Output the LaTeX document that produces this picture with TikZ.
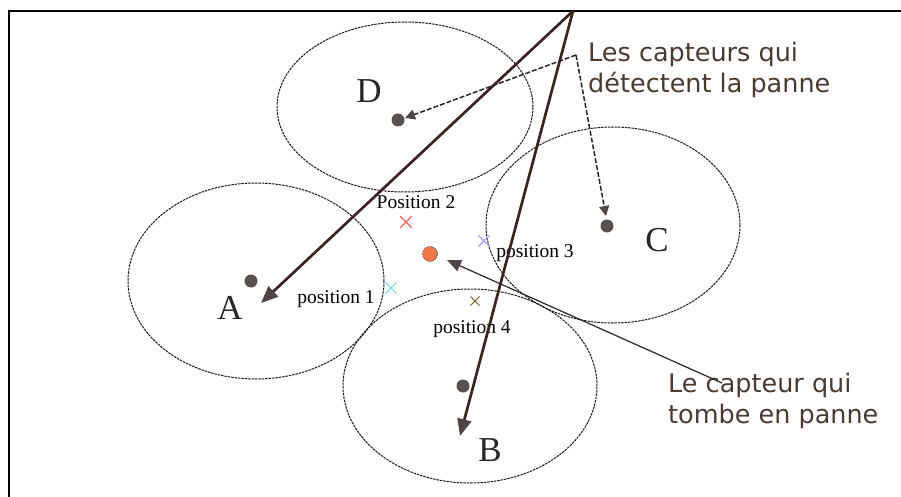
\documentclass[tikz,border=0pt]{standalone}
\usepackage{fontspec}
\setmainfont{Liberation Serif}
\newfontfamily\notefont{DejaVu Sans}
\usetikzlibrary{arrows.meta,shapes.misc}
\definecolor{dotgray}{HTML}{57514D}
\definecolor{arrowbrown}{HTML}{3A2420}
\definecolor{headgray}{HTML}{4E4642}
\definecolor{notegray}{HTML}{4A3A30}
\definecolor{faultorange}{HTML}{F07848}
\definecolor{xred}{HTML}{F06050}
\definecolor{xlav}{HTML}{A8A0F0}
\definecolor{xcyan}{HTML}{80D8F0}
\definecolor{xolive}{HTML}{5E5E20}
\begin{document}
\begin{tikzpicture}[x=1pt,y=-1pt,
  zone/.style={draw=black!90, line width=1pt, dash pattern=on 2.5pt off 0.9pt},
  sensor/.style={circle, fill=dotgray, inner sep=0pt, minimum size=13pt},
  fault/.style={circle, fill=faultorange, draw=black!70, dash pattern=on 1.5pt off 1pt, line width=0.6pt, inner sep=0pt, minimum size=15pt},
  bigname/.style={font=\fontsize{35}{35}\selectfont, inner sep=0pt, text=black!85},
  poslab/.style={font=\fontsize{19.5}{20}\selectfont, inner sep=0pt, anchor=base},
  note/.style={font=\notefont\fontsize{25.5}{31}\selectfont, align=left, text=notegray, inner sep=0pt, anchor=base west},
  crossmark/.style={cross out, draw, line width=1.2pt, minimum size=10pt, inner sep=0pt},
  mainarrow/.style={draw=arrowbrown, line width=2.7pt, -{Triangle[length=17pt,width=14pt,color=headgray]}},
  dasharrow/.style={draw=black!85, line width=1.5pt, dash pattern=on 5pt off 2pt, -{Triangle[length=10pt,width=10pt,color=headgray]}},
  thinarrow/.style={draw=black!85, line width=1.2pt, -{Triangle[length=14pt,width=12pt,color=headgray]}}
]
\useasboundingbox (0,0) rectangle (901,497);
% frame
\draw[line width=1.8pt] (9,497) -- (9,11) -- (901,11);
% coverage zones
\draw[zone] (405,107) ellipse [x radius=128pt, y radius=85pt];
\draw[zone] (256,281) ellipse [x radius=128pt, y radius=98pt];
\draw[zone] (613,225) ellipse [x radius=127pt, y radius=98pt];
\draw[zone] (470,386) ellipse [x radius=127pt, y radius=97pt];
% sensors
\node[sensor] (dA) at (251,281) {};
\node[sensor] (dD) at (398,120) {};
\node[sensor] (dC) at (607,226) {};
\node[sensor] (dB) at (463,386) {};
\node[fault] (dF) at (430,254) {};
% names
\node[bigname] (labD) at (369,91) {D};
\node[bigname] (labA) at (230,308) {A};
\node[bigname] (labC) at (657,240) {C};
\node[bigname] (labB) at (490,450) {B};
% positions
\node[poslab] (p2) at (416,208) {Position 2};
\node[poslab] (p3) at (535,257) {position 3};
\node[poslab] (p1) at (336,303) {position 1};
\node[poslab] (p4) at (472,333) {position 4};
\node[crossmark, draw=xred] (x2) at (406,222) {};
\node[crossmark, draw=xlav] (x3) at (484,241) {};
\node[crossmark, draw=xcyan] (x1) at (391,288) {};
\node[crossmark, draw=xolive, minimum size=8pt, line width=1pt] (x4) at (475,301) {};
% notes (base anchor = baseline of the last line)
\node[note] (noteD) at (588,93) {Les capteurs qui\\détectent la panne};
\node[note] (noteF) at (668,423) {Le capteur qui\\tombe en panne};
% arrows
\coordinate (top) at (573,11);
\coordinate (tipA) at (261,303);
\coordinate (tipB) at (460,436);
\coordinate (corner) at (576,55);
\coordinate (tipD) at (405,118);
\coordinate (tipC) at (606,216);
\coordinate (from) at (722,383);
\coordinate (tipF) at (447,260);
\draw[mainarrow] (top) -- (tipA);
\draw[mainarrow] (top) -- (tipB);
\draw[dasharrow] (corner) -- (tipD);
\draw[dasharrow] (corner) -- (tipC);
\draw[thinarrow] (from) -- (tipF);
\end{tikzpicture}
\end{document}
